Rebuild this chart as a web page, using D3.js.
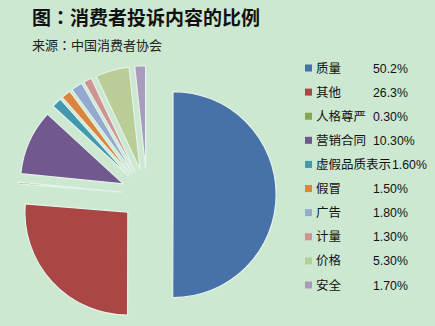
<!DOCTYPE html>
<html><head><meta charset="utf-8">
<script src="https://cdn.jsdelivr.net/npm/d3@7"></script>
<style>
html,body{margin:0;padding:0;background:#cce8d1;}
svg{display:block;}
</style></head>
<body>
<script>
const categories = ["质量","其他","人格尊严","营销合同","虚假品质表示","假冒","广告","计量","价格","安全"];
const values = [50.2,26.3,0.3,10.3,1.6,1.5,1.8,1.3,5.3,1.7];
const valueLabels = ["50.2%","26.3%","0.30%","10.30%","1.60%","1.50%","1.80%","1.30%","5.30%","1.70%"];
const colors = ["#4671a9","#aa4644","#89a54e","#71588f","#4198af","#db843d","#93a9cf","#d19392","#b9cd96","#a99bbd"];
const titleParts = ["图", "：", "消费者投诉内容的比例"];
const subtitleParts = ["来源", "：", "中国消费者协会"];

const W = 435, H = 326;
const svg = d3.select("body").append("svg").attr("width", W).attr("height", H);
svg.append("rect").attr("width", W).attr("height", H).attr("fill", "#cce8d1");

const font = "'Noto Sans CJK SC','Noto Sans',sans-serif";
const colonFont = "'Noto Sans CJK JP','Noto Sans CJK TC',sans-serif";
const tt = svg.append("text").attr("x", 32).attr("y", 25).attr("font-family", font)
  .attr("font-size", 19).attr("font-weight", "bold").attr("fill", "#111");
tt.append("tspan").text(titleParts[0]);
tt.append("tspan").attr("font-family", colonFont).text(titleParts[1]);
tt.append("tspan").text(titleParts[2]);
const st = svg.append("text").attr("x", 32).attr("y", 50).attr("font-family", font)
  .attr("font-size", 13).attr("fill", "#222");
st.append("tspan").text(subtitleParts[0]);
st.append("tspan").attr("font-family", colonFont).text(subtitleParts[1]);
st.append("tspan").text(subtitleParts[2]);

const cx = 147, cy = 194.5, r = 103, explode = 26;
const pie = d3.pie().sort(null).value(d => d);
const arc = d3.arc().innerRadius(0).outerRadius(r);
const arcs = pie(values);
const g = svg.append("g").attr("transform", `translate(${cx},${cy})`);
g.selectAll("path").data(arcs).join("path")
  .attr("d", arc)
  .attr("fill", (d, i) => colors[i])
  .attr("stroke", "#e4f3ea").attr("stroke-width", 1.2).attr("stroke-linejoin", "round")
  .attr("transform", d => {
    const a = (d.startAngle + d.endAngle) / 2;
    return `translate(${explode * Math.sin(a)},${-explode * Math.cos(a)})`;
  });

// legend
const ly = d3.scalePoint().domain(categories).range([68, 285]);
const leg = svg.append("g");
categories.forEach((c, i) => {
  const y = ly(c);
  leg.append("rect").attr("x", 305).attr("y", y - 3.5).attr("width", 7).attr("height", 7).attr("fill", colors[i]);
  const t = leg.append("text").attr("x", 316).attr("y", y + 4.5).attr("font-family", font)
    .attr("font-size", 12.5).attr("fill", "#111").text(c);
  const lw = t.node().getComputedTextLength();
  leg.append("text").attr("x", Math.max(373, 316 + lw + 1)).attr("y", y + 4.5)
    .attr("font-family", "'Liberation Sans',Arial,sans-serif")
    .attr("font-size", 12.3).attr("fill", "#111").text(valueLabels[i]);
});
</script>
</body></html>
